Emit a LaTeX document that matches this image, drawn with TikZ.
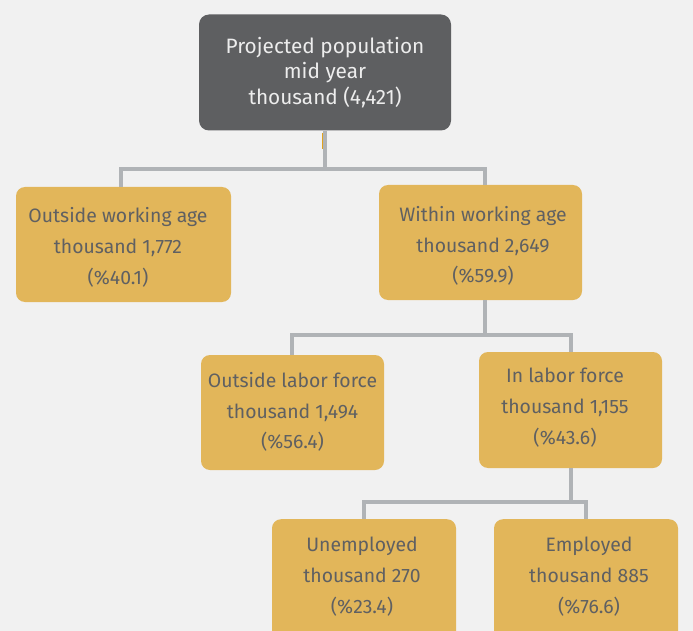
\documentclass[tikz,border=0pt]{standalone}
\usepackage{fontspec}
\setmainfont{Fira Sans}
\usetikzlibrary{calc}
\definecolor{bgc}{HTML}{F1F1F1}
\definecolor{boxy}{HTML}{E2B65A}
\definecolor{topg}{HTML}{5E5F61}
\definecolor{txtg}{HTML}{5F6062}
\definecolor{linec}{HTML}{B0B3B6}
\definecolor{markc}{HTML}{E0A21E}
\begin{document}
\begin{tikzpicture}[x=1pt,y=-1pt,
  ybox/.style={fill=boxy, rounded corners=9pt, draw=none, inner sep=0pt},
  ytext/.style={text=txtg, align=center, font=\fontsize{19.4}{30.8}\selectfont, inner sep=0pt},
  conn/.style={draw=linec, line width=4pt}]
\useasboundingbox (0,0) rectangle (693,631);
\fill[bgc] (0,0) rectangle (693,631);
\clip (0,0) rectangle (693,631);

% top box
\node[fill=topg, rounded corners=10pt, minimum width=252pt, minimum height=116pt,
      text=white!93!black, align=center, inner sep=0pt,
      font=\fontsize{20.8}{25.5}\selectfont] (top) at (325,72.5)
      {Projected population\\mid year\\thousand (4,421)};

% level 1
\node[ybox, minimum width=215pt, minimum height=115pt] (ow) at (123.5,244.5) {};
\node[ytext] (owt) at (118,247.5) {Outside working age\\thousand 1,772\\(\%40.1)};
\node[ybox, minimum width=203pt, minimum height=115pt] (wa) at (480.5,242.5) {};
\node[ytext] (wat) at (483,246) {Within working age\\thousand 2,649\\(\%59.9)};

% level 2
\node[ybox, minimum width=183pt, minimum height=115pt] (ol) at (292.5,412.5) {};
\node[ytext] (olt) at (292.5,412) {Outside labor force\\thousand 1,494\\(\%56.4)};
\node[ybox, minimum width=183pt, minimum height=116pt] (il) at (570.5,410) {};
\node[ytext] (ilt) at (565,407.5) {In labor force\\thousand 1,155\\(\%43.6)};

% level 3
\node[ybox, minimum width=184pt, minimum height=130pt, anchor=north] (un) at (364,519) {};
\node[ytext] (unt) at (362,576.5) {Unemployed\\thousand 270\\(\%23.4)};
\node[ybox, minimum width=184pt, minimum height=130pt, anchor=north] (em) at (586,519) {};
\node[ytext] (emt) at (589,576.5) {Employed\\thousand 885\\(\%76.6)};

% connectors
\coordinate (j1) at (325,169);
\draw[conn] (top.south) -- (j1);
\draw[conn] (j1) -| ($(ow.north)+(-2.5,0)$);
\draw[conn] (j1) -| ($(wa.north)+(4.5,0)$);
\draw[markc, line width=1.5pt] (322.5,133) -- (322.5,149);

\coordinate (j2) at (485,335);
\draw[conn] ($(wa.south)+(4.5,0)$) -- (j2);
\draw[conn] (j2) -| ($(ol.north)+(-0.5,0)$);
\draw[conn] (j2) -| (il.north);

\coordinate (j3) at (570.5,502);
\draw[conn] (il.south) -- (j3);
\draw[conn] (j3) -| (un.north);
\draw[conn] (j3) -| (em.north);
\end{tikzpicture}
\end{document}
